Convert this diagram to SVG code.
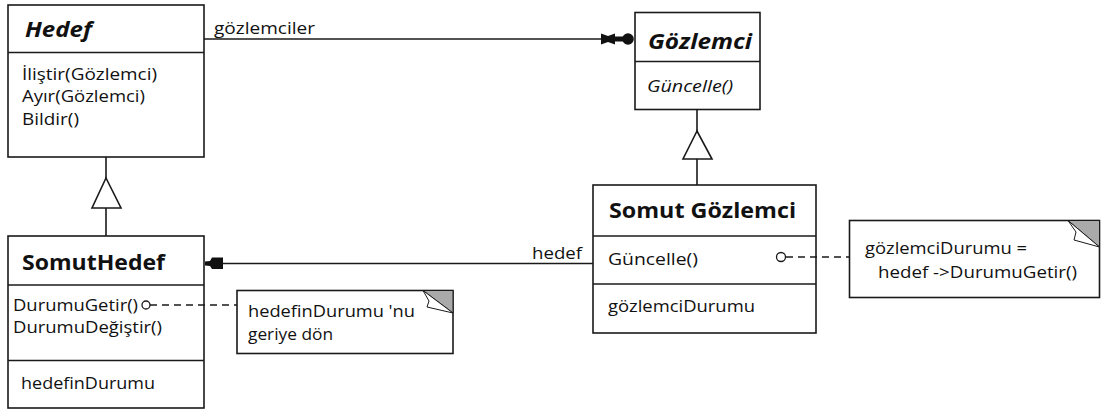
<svg xmlns="http://www.w3.org/2000/svg" width="1103" height="410" viewBox="0 0 1103 410">
<style>
.box{fill:#fff;stroke:#1a1a1a;stroke-width:1.6}
.ln{stroke:#1a1a1a;stroke-width:1.6;fill:none}
.dash{stroke:#1a1a1a;stroke-width:1.4;stroke-dasharray:7 5;fill:none}
text{font-family:"Open Sans","Liberation Sans",sans-serif;fill:#111}
.t{font-size:22px;font-weight:bold}
.ti{font-size:22px;font-weight:bold;font-style:italic}
.m{font-size:16px}
.mi{font-size:16px;font-style:italic}
.ear{fill:#aaa;stroke:#1a1a1a;stroke-width:1}
.flap{fill:#fff;stroke:#1a1a1a;stroke-width:1}
.gen{fill:#fff;stroke:#1a1a1a;stroke-width:1.6}
</style>

<g id="hedef">
  <rect class="box" x="8" y="5" width="196" height="152"/>
  <line class="ln" x1="8" y1="52.5" x2="204" y2="52.5"/>
  <text class="ti" x="25" y="37" textLength="67" lengthAdjust="spacingAndGlyphs">Hedef</text>
  <text class="m" x="22" y="80" textLength="135" lengthAdjust="spacingAndGlyphs">İliştir(Gözlemci)</text>
  <text class="m" x="22" y="102" textLength="123" lengthAdjust="spacingAndGlyphs">Ayır(Gözlemci)</text>
  <text class="m" x="22" y="125" textLength="57" lengthAdjust="spacingAndGlyphs">Bildir()</text>
</g>

<g id="gozlemci">
  <rect class="box" x="635" y="12.5" width="125" height="97"/>
  <line class="ln" x1="635" y1="61.5" x2="760" y2="61.5"/>
  <text class="ti" x="648" y="48.5" textLength="104" lengthAdjust="spacingAndGlyphs">Gözlemci</text>
  <text class="mi" x="647" y="91.5" textLength="86" lengthAdjust="spacingAndGlyphs">Güncelle()</text>
</g>

<g id="somutGozlemci">
  <rect class="box" x="593" y="185" width="223" height="148"/>
  <line class="ln" x1="593" y1="236" x2="816" y2="236"/>
  <line class="ln" x1="593" y1="284" x2="816" y2="284"/>
  <text class="t" x="609" y="217.5" textLength="187" lengthAdjust="spacingAndGlyphs">Somut Gözlemci</text>
  <text class="m" x="608" y="265" textLength="90" lengthAdjust="spacingAndGlyphs">Güncelle()</text>
  <text class="m" x="608" y="311.5" textLength="147" lengthAdjust="spacingAndGlyphs">gözlemciDurumu</text>
</g>

<g id="somutHedef">
  <rect class="box" x="8" y="236" width="196" height="172"/>
  <line class="ln" x1="8" y1="285" x2="204" y2="285"/>
  <line class="ln" x1="8" y1="360.5" x2="204" y2="360.5"/>
  <text class="t" x="22" y="269.5" textLength="143" lengthAdjust="spacingAndGlyphs">SomutHedef</text>
  <text class="m" x="13" y="310.5" textLength="125" lengthAdjust="spacingAndGlyphs">DurumuGetir()</text>
  <text class="m" x="13" y="333" textLength="149" lengthAdjust="spacingAndGlyphs">DurumuDeğiştir()</text>
  <text class="m" x="21" y="388.5" textLength="134" lengthAdjust="spacingAndGlyphs">hedefinDurumu</text>
</g>

<g id="noteHedef">
  <rect class="box" x="237" y="290.5" width="216" height="63"/>
  <polygon class="ear" points="423,290.5 453,290.5 453,313"/>
  <polygon class="flap" points="423,290.5 429,301 427,307 453,313"/>
  <text class="m" x="248" y="316.5" textLength="167" lengthAdjust="spacingAndGlyphs">hedefinDurumu 'nu</text>
  <text class="m" x="248" y="340" textLength="85" lengthAdjust="spacingAndGlyphs">geriye dön</text>
</g>

<g id="noteGozlemci">
  <rect class="box" x="849.5" y="220.5" width="250" height="77"/>
  <polygon class="ear" points="1068,220.5 1099.5,220.5 1099.5,247"/>
  <polygon class="flap" points="1068,220.5 1076,232 1074,240 1099.5,247"/>
  <text class="m" x="865" y="253.5" textLength="162" lengthAdjust="spacingAndGlyphs">gözlemciDurumu =</text>
  <text class="m" x="878" y="277.5" textLength="199" lengthAdjust="spacingAndGlyphs">hedef -&gt;DurumuGetir()</text>
</g>

<g id="connectors">
  <!-- gözlemciler association -->
  <line class="ln" x1="204" y1="39" x2="606" y2="39"/>
  <polygon points="601,33.5 608,36 615,33.5 615,44.5 608,42 601,44.5" fill="#111"/>
  <line x1="614" y1="39" x2="624" y2="39" stroke="#111" stroke-width="5"/>
  <circle cx="628" cy="39" r="5.8" fill="#111"/>
  <text class="m" x="214" y="34" textLength="101" lengthAdjust="spacingAndGlyphs">gözlemciler</text>

  <!-- Hedef generalization -->
  <line class="ln" x1="106" y1="157" x2="106" y2="178"/>
  <polygon class="gen" points="106,178 92,208 121,208"/>
  <line class="ln" x1="106" y1="208" x2="106" y2="236"/>

  <!-- Gözlemci generalization -->
  <line class="ln" x1="697" y1="109" x2="697" y2="131"/>
  <polygon class="gen" points="697,131 683,159 712,159"/>
  <line class="ln" x1="697" y1="159" x2="697" y2="185"/>

  <!-- hedef association -->
  <line class="ln" x1="215" y1="263.5" x2="593" y2="263.5"/>
  <polygon points="205,261.5 210,261 212,257.5 223,257.5 223,269 212,269 210,266 205,265.5" fill="#111"/>
  <text class="m" x="532" y="259" textLength="50" lengthAdjust="spacingAndGlyphs">hedef</text>

  <!-- note links -->
  <circle cx="146" cy="305" r="4" fill="#fff" stroke="#1a1a1a" stroke-width="1.3"/>
  <line class="dash" x1="150" y1="305" x2="237" y2="305"/>
  <circle cx="781" cy="257" r="4.5" fill="#fff" stroke="#1a1a1a" stroke-width="1.3"/>
  <line class="dash" x1="786" y1="257" x2="849" y2="257"/>
</g>
</svg>
